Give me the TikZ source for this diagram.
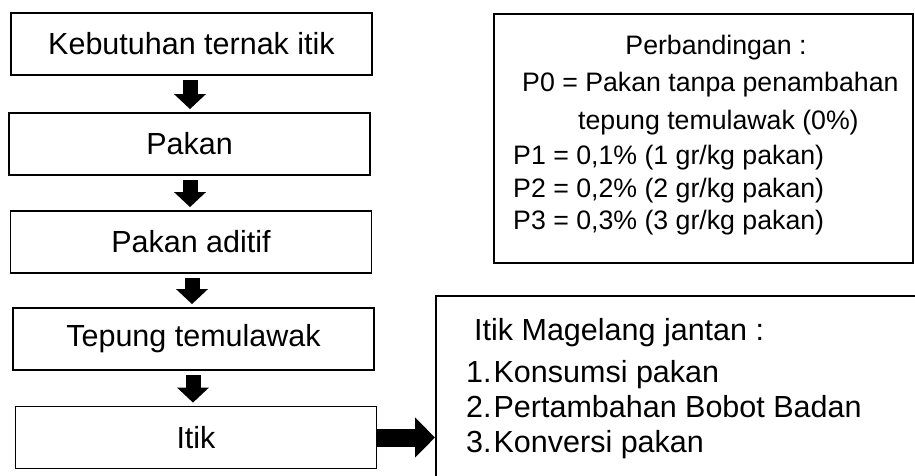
\documentclass[tikz,border=0pt]{standalone}
\usepackage{fontspec}
\setmainfont{Liberation Sans}
\usetikzlibrary{arrows.meta,positioning}

\begin{document}
\begin{tikzpicture}[x=1pt,y=-1pt,
  box/.style={draw,line width=1.8pt,inner sep=0pt,minimum width=361pt,minimum height=62pt,
    font=\fontsize{30.5}{34}\selectfont},
  frame/.style={draw,line width=1.8pt,inner sep=0pt,anchor=north west},
  perb/.style={anchor=base west,inner sep=0pt,font=\fontsize{26.7}{30}\selectfont},
  hasil/.style={anchor=base west,inner sep=0pt,font=\fontsize{30.5}{34}\selectfont},
  blok/.style={line width=15pt,-{Triangle[width=31pt,length=15pt]},shorten <=4pt,shorten >=3pt}]
  \useasboundingbox (0,0) rectangle (915,475);
  % alur penelitian (kiri)
  \node[box] (kebutuhan) at (191.5,44) {Kebutuhan ternak itik};
  \node[box] (pakan) at (189.5,144) {Pakan};
  \node[box] (aditif) at (191,242) {Pakan aditif};
  \node[box] (tepung) at (193.5,339) {Tepung temulawak};
  \node[box] (itik) at (196,437.5) {Itik};
  % panah ke bawah
  \draw[blok] (kebutuhan.south -| 190,0) -- (pakan.north -| 190,0);
  \draw[blok] (pakan.south -| 190,0) -- (aditif.north -| 190,0);
  \draw[blok] (aditif.south -| 192,0) -- (tepung.north -| 192,0);
  \draw[blok] (tepung.south -| 193,0) -- (itik.north -| 193,0);
  % kotak perbandingan
  \node[frame,minimum width=419pt,minimum height=249pt] (banding) at (493,13) {};
  \node[perb,anchor=base] (judul) at (716,54) {Perbandingan :};
  \node[perb] (p0) at (522,91) {P0 = Pakan tanpa penambahan};
  \node[perb] (p0b) at (578,129) {tepung temulawak (0\%)};
  \node[perb] (p1) at (513,164) {P1 = 0,1\% (1 gr/kg pakan)};
  \node[perb] (p2) at (513,197) {P2 = 0,2\% (2 gr/kg pakan)};
  \node[perb] (p3) at (513,229) {P3 = 0,3\% (3 gr/kg pakan)};
  % kotak itik magelang
  \node[frame,minimum width=520pt,minimum height=220pt] (magelang) at (435,295) {};
  \coordinate (masuk) at (itik.east -| magelang.west);
  \draw[line width=18pt,-{Triangle[width=39pt,length=20pt]}] (itik.east) -- (masuk);
  \node[hasil] (jantan) at (474,340) {Itik Magelang jantan :};
  \node[hasil] (h1) at (466,382) {1.\hspace{2pt}Konsumsi pakan};
  \node[hasil] (h2) at (466,417) {2.\hspace{2pt}Pertambahan Bobot Badan};
  \node[hasil] (h3) at (466,452) {3.\hspace{2pt}Konversi pakan};
\end{tikzpicture}
\end{document}
